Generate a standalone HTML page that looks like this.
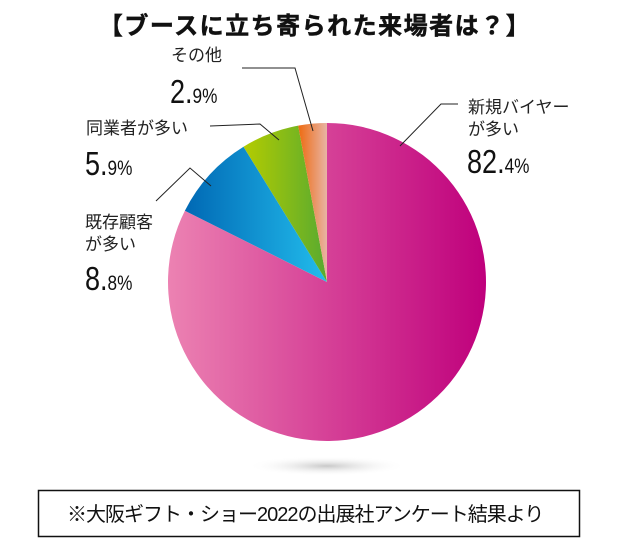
<!DOCTYPE html>
<html><head><meta charset="utf-8">
<style>
html,body{margin:0;padding:0;background:#fff;}
svg{display:block;font-family:"Liberation Sans","Noto Sans CJK JP",sans-serif;}
.lbl{font-size:17px;fill:#222;}
.num{font-size:33px;fill:#111;}
.sm{font-size:21px;}
</style></head>
<body>
<svg width="620" height="550" viewBox="0 0 620 550">
<defs>
<linearGradient id="gNew" x1="0" y1="0" x2="1" y2="0"><stop offset="0" stop-color="#ec82b2"/><stop offset="1" stop-color="#bf007c"/></linearGradient>
<linearGradient id="gExist" x1="0" y1="0" x2="1" y2="0"><stop offset="0" stop-color="#0068b4"/><stop offset="1" stop-color="#22bcec"/></linearGradient>
<linearGradient id="gSame" x1="0" y1="0" x2="1" y2="0"><stop offset="0" stop-color="#b4cc00"/><stop offset="1" stop-color="#58aa30"/></linearGradient>
<linearGradient id="gOther" x1="0" y1="0" x2="1" y2="0"><stop offset="0" stop-color="#ee6a10"/><stop offset="1" stop-color="#e8b4a4"/></linearGradient>
<radialGradient id="gShadow"><stop offset="0" stop-color="#c8c8c8"/><stop offset="1" stop-color="#fff" stop-opacity="0"/></radialGradient>
</defs>
<text x="315" y="34" text-anchor="middle" font-size="24" font-weight="bold" letter-spacing="1.5" fill="#111" stroke="#111" stroke-width="0.5">【ブースに立ち寄られた来場者は？】</text>
<ellipse cx="327" cy="466" rx="80" ry="10" fill="url(#gShadow)"/>
<g id="slices"></g>
<g stroke="#222" stroke-width="1" fill="none">
<polyline points="242,68 295,68 313,131"/>
<polyline points="458,104 441,104 400,146"/>
<polyline points="210,126 260,124 279,140"/>
<polyline points="156,201 190,168 211,186"/>
</g>
<text class="lbl" x="171" y="61">その他</text>
<text class="num" transform="translate(170,103) scale(0.82,1)">2.<tspan class="sm">9%</tspan></text>
<text class="lbl" x="468" y="113">新規バイヤー</text>
<text class="lbl" x="468" y="135">が多い</text>
<text class="num" transform="translate(467,173) scale(0.82,1)">82.<tspan class="sm">4%</tspan></text>
<text class="lbl" x="86" y="134">同業者が多い</text>
<text class="num" transform="translate(85,175) scale(0.82,1)">5.<tspan class="sm">9%</tspan></text>
<text class="lbl" x="85" y="228">既存顧客</text>
<text class="lbl" x="85" y="250">が多い</text>
<text class="num" transform="translate(85,290) scale(0.82,1)">8.<tspan class="sm">8%</tspan></text>
<rect x="38.5" y="490.5" width="541" height="46" fill="#fff" stroke="#111" stroke-width="1.5"/>
<text x="67" y="521" font-size="20" fill="#111" letter-spacing="-1">※大阪ギフト・ショー2022の出展社アンケート結果より</text>
</svg>
<script>
const categories = ["新規バイヤーが多い","既存顧客が多い","同業者が多い","その他"];
const values = [82.4, 8.8, 5.9, 2.9];
const fills = ["url(#gNew)","url(#gExist)","url(#gSame)","url(#gOther)"];
const cx = 327, cy = 282, r = 159;
const g = document.getElementById('slices');
const total = values.reduce((a,b)=>a+b,0);
function pt(a){ return [cx + r*Math.sin(a), cy - r*Math.cos(a)]; }
let acc = 0;
values.forEach((v,i)=>{
  const a0 = acc/total*2*Math.PI; acc += v;
  const a1 = acc/total*2*Math.PI;
  const p0 = pt(a0), p1 = pt(a1);
  const large = (a1-a0) > Math.PI ? 1 : 0;
  const p = document.createElementNS('http://www.w3.org/2000/svg','path');
  p.setAttribute('d', `M${cx},${cy} L${p0[0]},${p0[1]} A${r},${r} 0 ${large} 1 ${p1[0]},${p1[1]} Z`);
  p.setAttribute('fill', fills[i]);
  
  
  g.appendChild(p);
});
</script>
</body></html>
